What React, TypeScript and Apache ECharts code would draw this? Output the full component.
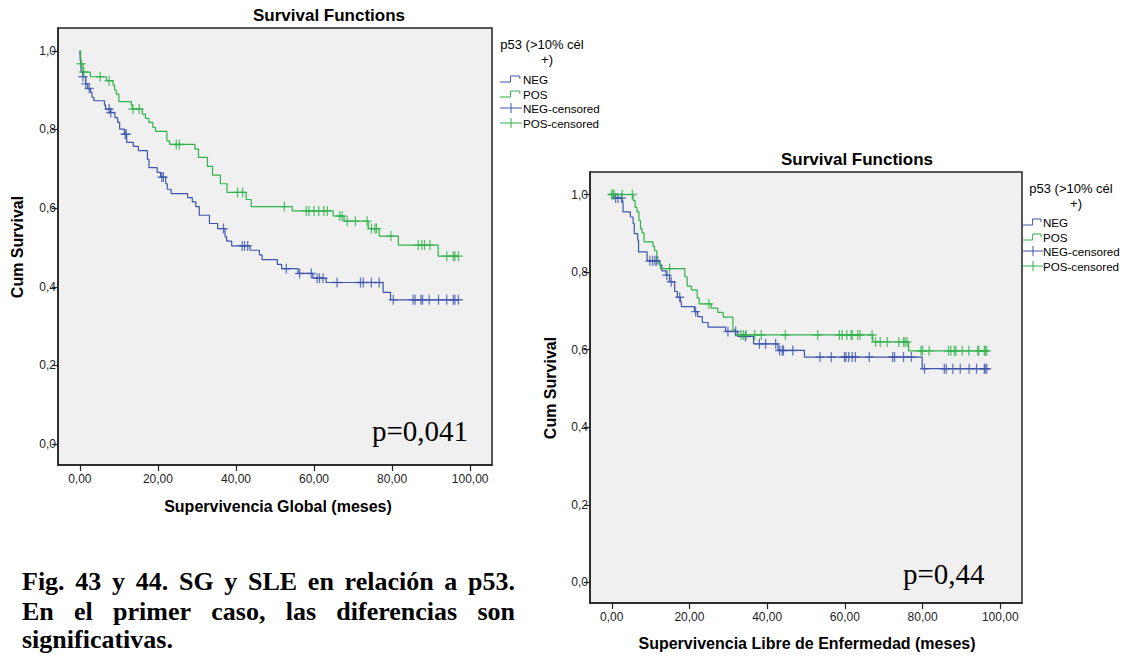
import React, { useEffect, useRef } from 'react';
import * as echarts from 'echarts';

// ---------- texts ----------
const chartTitle = 'Survival Functions';
const yAxisName = 'Cum Survival';
const legendTitleLines = ['p53 (>10% cél', '+)'];
const legendLabels = ['NEG', 'POS', 'NEG-censored', 'POS-censored'];
const xTicks = [0, 20, 40, 60, 80, 100];
const yTicks = [0, 0.2, 0.4, 0.6, 0.8, 1.0];
const captionLine1 = ['Fig.', '43', 'y', '44.', 'SG', 'y', 'SLE', 'en', 'relación', 'a', 'p53.'];
const captionLine2 = ['En', 'el', 'primer', 'caso,', 'las', 'diferencias', 'son'];
const captionLine3 = 'significativas.';

// ---------- Chart 1: Supervivencia Global ----------
const sgXName = 'Supervivencia Global (meses)';
const sgPValue = 'p=0,041';
const sgNegTimes = [0.1, 0.3, 0.8, 1.5, 2.0, 2.7, 3.1, 3.6, 6.3, 6.6, 7.9, 9.0, 9.7, 10.2, 11.4, 12.0, 13.7, 15.0, 17.3, 17.7, 19.8, 20.7, 22.0, 22.4, 23.4, 27.6, 28.8, 29.7, 30.6, 33.2, 35.3, 37.2, 37.6, 38.9, 43.6, 46.0, 46.7, 50.6, 51.7, 55.9, 59.7, 63.1, 77.7, 79.6];
const sgNegSurv = [0.975, 0.946, 0.934, 0.916, 0.904, 0.895, 0.882, 0.873, 0.862, 0.852, 0.843, 0.830, 0.818, 0.801, 0.788, 0.767, 0.757, 0.746, 0.724, 0.703, 0.691, 0.679, 0.662, 0.648, 0.637, 0.627, 0.616, 0.604, 0.582, 0.561, 0.548, 0.527, 0.516, 0.504, 0.493, 0.481, 0.469, 0.457, 0.446, 0.434, 0.422, 0.411, 0.386, 0.367];
const sgNegEnd = 97.0;
const sgNegCensored = [0.8, 1.5, 2.4, 7.5, 7.9, 11.6, 11.9, 21.0, 21.4, 36.8, 41.6, 42.2, 43.0, 52.9, 56.3, 59.3, 60.8, 61.4, 62.3, 65.9, 71.9, 72.6, 74.7, 76.7, 80.3, 85.4, 85.9, 87.4, 87.8, 89.5, 91.9, 94.0, 95.7, 96.1, 97.0];

const sgPosTimes = [0.2, 0.8, 2.7, 6.8, 8.5, 8.9, 9.3, 10.0, 13.2, 13.4, 16.0, 16.8, 17.7, 18.7, 19.4, 22.3, 23.0, 29.5, 30.4, 32.7, 34.0, 36.0, 37.7, 42.6, 43.9, 54.4, 64.9, 67.7, 73.9, 76.7, 81.6, 91.8];
const sgPosSurv = [0.967, 0.946, 0.934, 0.924, 0.913, 0.901, 0.890, 0.871, 0.862, 0.852, 0.839, 0.828, 0.818, 0.805, 0.795, 0.771, 0.762, 0.750, 0.729, 0.706, 0.684, 0.662, 0.640, 0.622, 0.604, 0.593, 0.580, 0.567, 0.548, 0.529, 0.506, 0.478];
const sgPosEnd = 97.0;
const sgPosCensored = [0.3, 1.0, 5.2, 7.5, 13.6, 15.2, 24.7, 25.5, 40.4, 41.7, 52.4, 58.0, 58.7, 60.0, 61.2, 62.5, 63.4, 66.6, 67.2, 68.5, 70.6, 73.6, 74.7, 75.6, 76.0, 79.7, 86.7, 87.6, 88.3, 89.7, 94.0, 95.7, 96.1, 97.0];

// ---------- Chart 2: Supervivencia Libre de Enfermedad ----------
const sleXName = 'Supervivencia Libre de Enfermedad (meses)';
const slePValue = 'p=0,44';
const sleNegTimes = [0.5, 2.7, 2.9, 4.8, 5.5, 5.8, 6.7, 6.9, 9.1, 12.4, 12.9, 14.0, 14.9, 16.2, 16.9, 17.7, 17.9, 21.3, 22.1, 23.3, 24.8, 29.3, 32.4, 36.5, 42.8, 49.6, 79.9];
const sleNegSurv = [0.991, 0.983, 0.955, 0.942, 0.925, 0.899, 0.882, 0.852, 0.829, 0.818, 0.803, 0.792, 0.775, 0.750, 0.735, 0.724, 0.711, 0.698, 0.685, 0.670, 0.658, 0.647, 0.634, 0.615, 0.598, 0.581, 0.551];
const sleNegEnd = 96.5;
const sleNegCensored = [1.0, 1.6, 2.5, 9.8, 10.5, 11.1, 11.5, 14.2, 15.3, 17.5, 21.6, 29.9, 31.9, 34.4, 38.0, 39.6, 42.2, 43.2, 43.9, 44.2, 46.6, 53.6, 56.5, 59.9, 60.3, 61.0, 61.9, 62.7, 66.3, 72.3, 72.8, 75.1, 77.1, 80.5, 85.6, 86.1, 87.8, 89.7, 92.0, 93.9, 95.9, 96.1, 96.5];

const slePosTimes = [5.5, 6.0, 6.5, 7.0, 7.4, 7.8, 8.3, 10.6, 11.0, 11.6, 11.9, 12.5, 18.8, 19.4, 20.5, 22.0, 22.5, 25.6, 27.3, 28.7, 31.2, 31.8, 67.2, 76.4];
const slePosSurv = [0.985, 0.967, 0.955, 0.933, 0.912, 0.901, 0.878, 0.867, 0.855, 0.839, 0.821, 0.809, 0.788, 0.764, 0.754, 0.733, 0.718, 0.707, 0.696, 0.684, 0.651, 0.638, 0.620, 0.597];
const slePosEnd = 96.5;
const slePosCensored = [0.0, 0.3, 0.6, 2.7, 5.3, 14.9, 25.0, 33.3, 33.9, 34.6, 36.8, 38.5, 44.7, 53.0, 58.6, 59.3, 60.5, 61.6, 61.9, 63.3, 63.9, 67.0, 67.9, 69.1, 70.9, 73.9, 75.1, 75.5, 76.0, 79.6, 80.0, 81.7, 86.7, 87.3, 88.2, 88.6, 90.2, 91.9, 94.2, 94.5, 95.9, 96.1, 96.5];

// ---------- styling ----------
const NEG_COLOR = '#3d55ad';
const POS_COLOR = '#2fb24a';
const SANS = '"Liberation Sans", Arial, sans-serif';
const SERIF = '"Liberation Serif", "Times New Roman", serif';
const INK = '#222';
const PLUS = 'path://M4.3,0 h1.4 v4.3 h4.3 v1.4 h-4.3 v4.3 h-1.4 v-4.3 h-4.3 v-1.4 h4.3 Z';

function stepData(times: number[], surv: number[], end: number) {
  const d: number[][] = [[0, 1]];
  times.forEach((t, i) => d.push([t, surv[i]]));
  d.push([end, surv[surv.length - 1]]);
  return d;
}
function levelAt(times: number[], surv: number[], t: number) {
  let s = 1;
  for (let i = 0; i < times.length; i++) if (times[i] <= t) s = surv[i];
  return s;
}
function censorData(times: number[], surv: number[], cens: number[]) {
  return cens.map((c) => [c, levelAt(times, surv, c)]);
}

function measure(text: string, font: string) {
  const c = document.createElement('canvas').getContext('2d')!;
  c.font = font;
  return c.measureText(text).width;
}
function justify(words: string[], x0: number, x1: number, y: number, font: string) {
  const widths = words.map((w) => measure(w, font));
  const total = widths.reduce((a, b) => a + b, 0);
  const gap = (x1 - x0 - total) / (words.length - 1);
  let x = x0;
  return words.map((w, i) => {
    const el = { type: 'text', x, y, style: { text: w, font, fill: '#000', textVerticalAlign: 'middle' } };
    x += widths[i] + gap;
    return el;
  });
}

function text(x: number, y: number, t: string, font: string, align = 'left', extra: any = {}) {
  return { type: 'text', x, y, ...extra, style: { text: t, font, fill: '#000', textAlign: align, textVerticalAlign: 'middle' } };
}

function legend(x: number, cx: number, yTitle: number, yItems: number[], iconW: number, textX: number) {
  const els: any[] = [];
  els.push(text(cx, yTitle, legendTitleLines[0], `13px ${SANS}`, 'center'));
  els.push(text(cx + 5, yTitle + 15, legendTitleLines[1], `13px ${SANS}`, 'center'));
  const colors = [NEG_COLOR, POS_COLOR, NEG_COLOR, POS_COLOR];
  yItems.forEach((y, i) => {
    const col = colors[i];
    if (i < 2) {
      els.push({ type: 'polyline', shape: { points: [[x, y + 3], [x + iconW * 0.48, y + 3], [x + iconW * 0.48, y - 3], [x + iconW * 0.9, y - 3], [x + iconW * 0.9, y]] }, style: { stroke: col, lineWidth: 1, fill: 'none' } });
    } else {
      els.push({ type: 'line', shape: { x1: x, y1: y, x2: x + iconW, y2: y }, style: { stroke: col, lineWidth: 1 } });
      els.push({ type: 'line', shape: { x1: x + iconW / 2, y1: y - 5, x2: x + iconW / 2, y2: y + 5 }, style: { stroke: col, lineWidth: 1 } });
    }
    els.push(text(textX, y, legendLabels[i], `11.6px ${SANS}`, 'left'));
  });
  return els;
}

export default function App() {
  const ref = useRef<HTMLDivElement>(null);
  useEffect(() => {
    if (!ref.current) return;
    const chart = echarts.init(ref.current, undefined, { renderer: 'svg' });

    const xAxisBase = (gridIndex: number) => ({
      gridIndex, type: 'value', min: -5.6, max: 105.6,
      axisLine: { show: true, onZero: false, lineStyle: { color: INK, width: 1.5 } },
      axisTick: { show: true, length: 6, customValues: xTicks, lineStyle: { color: INK, width: 1.2 } },
      axisLabel: { customValues: xTicks, formatter: (v: number) => v.toFixed(2).replace('.', ','), fontSize: 12, color: INK, fontFamily: SANS, margin: 8 },
      splitLine: { show: false },
    });
    const yAxisBase = (gridIndex: number) => ({
      gridIndex, type: 'value', min: -0.053, max: 1.058,
      axisLine: { show: true, onZero: false, lineStyle: { color: INK, width: 1.5 } },
      axisTick: { show: true, length: 6, customValues: yTicks, lineStyle: { color: INK, width: 1.2 } },
      axisLabel: { customValues: yTicks, formatter: (v: number) => v.toFixed(1).replace('.', ','), fontSize: 12, color: INK, fontFamily: SANS, margin: 2 },
      splitLine: { show: false },
    });

    const lineSeries = (name: string, idx: number, data: number[][], color: string) => ({
      name, type: 'line', xAxisIndex: idx, yAxisIndex: idx, step: 'end', data, showSymbol: false, symbol: 'none',
      lineStyle: { color, width: 1.2 }, itemStyle: { color }, z: 2,
    });
    const censorSeries = (name: string, idx: number, data: number[][], color: string) => ({
      name, type: 'scatter', xAxisIndex: idx, yAxisIndex: idx, data, symbol: PLUS, symbolSize: [9, 10],
      itemStyle: { color }, z: 3,
    });

    const titleFont = `bold 17px ${SANS}`;
    const nameFont = `bold 16px ${SANS}`;
    const capFont = `bold 26px ${SERIF}`;

    const graphic: any[] = [
      text(329, 15, chartTitle, titleFont, 'center'),
      text(857, 159, chartTitle, titleFont, 'center'),
      text(278, 506, sgXName, nameFont, 'center'),
      text(807, 643, sleXName, nameFont, 'center'),
      text(17, 247, yAxisName, nameFont, 'center', { rotation: Math.PI / 2 }),
      text(550, 388, yAxisName, nameFont, 'center', { rotation: Math.PI / 2 }),
      text(372, 431, sgPValue, `29px ${SERIF}`, 'left'),
      text(903, 574, slePValue, `29px ${SERIF}`, 'left'),
      ...legend(500, 542, 44, [79, 94, 108, 123], 22, 523),
      ...legend(1023, 1071, 188, [222, 237, 251, 266], 20, 1043),
      ...justify(captionLine1, 22, 515, 581, capFont),
      ...justify(captionLine2, 22, 515, 611, capFont),
      text(22, 639, captionLine3, capFont, 'left'),
    ];

    chart.setOption({
      animation: false,
      backgroundColor: '#ffffff',
      grid: [
        { left: 58, top: 28, width: 434, height: 437, show: true, backgroundColor: '#f0f0f0', borderColor: INK, borderWidth: 1.5 },
        { left: 590, top: 172, width: 432, height: 431, show: true, backgroundColor: '#f0f0f0', borderColor: INK, borderWidth: 1.5 },
      ],
      xAxis: [xAxisBase(0), xAxisBase(1)],
      yAxis: [yAxisBase(0), yAxisBase(1)],
      series: [
        lineSeries('NEG', 0, stepData(sgNegTimes, sgNegSurv, sgNegEnd), NEG_COLOR),
        lineSeries('POS', 0, stepData(sgPosTimes, sgPosSurv, sgPosEnd), POS_COLOR),
        censorSeries('NEG-censored', 0, censorData(sgNegTimes, sgNegSurv, sgNegCensored), NEG_COLOR),
        censorSeries('POS-censored', 0, censorData(sgPosTimes, sgPosSurv, sgPosCensored), POS_COLOR),
        lineSeries('NEG', 1, stepData(sleNegTimes, sleNegSurv, sleNegEnd), NEG_COLOR),
        lineSeries('POS', 1, stepData(slePosTimes, slePosSurv, slePosEnd), POS_COLOR),
        censorSeries('NEG-censored', 1, censorData(sleNegTimes, sleNegSurv, sleNegCensored), NEG_COLOR),
        censorSeries('POS-censored', 1, censorData(slePosTimes, slePosSurv, slePosCensored), POS_COLOR),
      ],
      graphic,
    });
    return () => chart.dispose();
  }, []);
  return <div ref={ref} style={{ position: 'absolute', left: 0, top: 0, width: 1130, height: 657 }} />;
}
